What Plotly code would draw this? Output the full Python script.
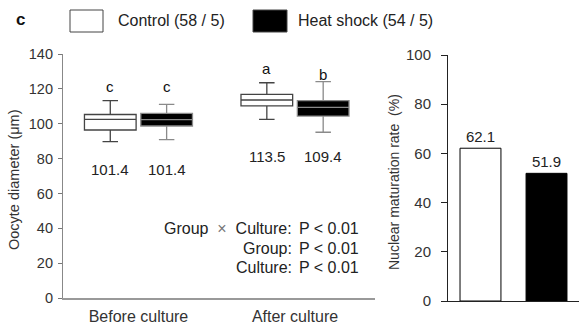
import plotly.graph_objects as go

W, H = 586, 326
FONT = "Liberation Sans, Arial, sans-serif"

# ---- data ----
groups = ["Control (58 / 5)", "Heat shock (54 / 5)"]
stages = ["Before culture", "After culture"]
# box stats per group: [before, after]
ctrl_low = [89.7, 102.5]
ctrl_q1 = [96.4, 110.2]
ctrl_med = [102.5, 113.6]
ctrl_q3 = [105.3, 116.8]
ctrl_high = [113.2, 123.5]
hs_low = [90.9, 95.1]
hs_q1 = [98.7, 104.4]
hs_med = [102.3, 109.4]
hs_q3 = [105.9, 113.2]
hs_high = [111.1, 124.2]
ctrl_mean_labels = ["101.4", "113.5"]
hs_mean_labels = ["101.4", "109.4"]
ctrl_letters = ["c", "a"]
hs_letters = ["c", "b"]
stats_labels = ["Group\u00a0 <span style='color:#777'>×</span> \u00a0Culture:", "Group:", "Culture:"]
stats_values = ["P < 0.01", "P < 0.01", "P < 0.01"]
maturation = [62.1, 51.9]

def px_x(p):
    return p / W

def px_y(p):
    return (H - p) / H

fig = go.Figure()

off = 0.18
bw = 0.33
fig.add_trace(go.Box(
    x=[i - off for i in range(2)], q1=ctrl_q1, median=ctrl_med, q3=ctrl_q3,
    lowerfence=ctrl_low, upperfence=ctrl_high, width=bw, whiskerwidth=0.3,
    fillcolor="white", line=dict(color="#444444", width=1.3), boxpoints=False,
    xaxis="x", yaxis="y", showlegend=False, hoverinfo="skip"))
fig.add_trace(go.Box(
    x=[i + off for i in range(2)], q1=hs_q1, median=hs_med, q3=hs_q3,
    lowerfence=hs_low, upperfence=hs_high, width=bw, whiskerwidth=0.3,
    fillcolor="black", line=dict(color="#8a8a8a", width=1.3), boxpoints=False,
    xaxis="x", yaxis="y", showlegend=False, hoverinfo="skip"))

fig.add_trace(go.Bar(
    x=[0, 1], y=maturation, width=0.62,
    marker=dict(color=["white", "black"], line=dict(color="black", width=1)),
    text=[f"{v:.1f}" for v in maturation], textposition="outside",
    textfont=dict(size=15, color="#222"), cliponaxis=False,
    xaxis="x2", yaxis="y2", showlegend=False, hoverinfo="skip"))

TXT = dict(size=15, color="#222")
TXT16 = dict(size=16, color="#222")
ann = []
for i in range(2):
    ann.append(dict(x=i - off, y=[121.5, 131.5][i], xref="x", yref="y", text=ctrl_letters[i],
                    xanchor="center", yanchor="middle", showarrow=False, font=dict(size=15, color="#111")))
    ann.append(dict(x=i + off, y=[121.5, 128.5][i], xref="x", yref="y", text=hs_letters[i],
                    xanchor="center", yanchor="middle", showarrow=False, font=dict(size=15, color="#111")))
    my = [73.5, 81][i]
    ann.append(dict(x=i - off, y=my, xref="x", yref="y", text=ctrl_mean_labels[i],
                    xanchor="center", yanchor="middle", showarrow=False, font=TXT))
    ann.append(dict(x=i + off, y=my, xref="x", yref="y", text=hs_mean_labels[i],
                    xanchor="center", yanchor="middle", showarrow=False, font=TXT))

for k, py in enumerate([229, 248, 267]):
    ann.append(dict(x=px_x(294), y=px_y(py), xref="paper", yref="paper", xanchor="right",
                    yanchor="middle", text=stats_labels[k], showarrow=False, font=TXT16))
    ann.append(dict(x=px_x(297), y=px_y(py), xref="paper", yref="paper", xanchor="left",
                    yanchor="middle", text=stats_values[k], showarrow=False, font=TXT16))

ann.append(dict(x=px_x(14), y=px_y(180), xref="paper", yref="paper", textangle=-90,
                xanchor="center", yanchor="middle",
                text="Oocyte diameter (μm)", showarrow=False, font=dict(size=14.5, color="#333")))
ann.append(dict(x=px_x(394), y=px_y(182), xref="paper", yref="paper", textangle=-90,
                xanchor="center", yanchor="middle",
                text="Nuclear maturation rate\u00a0 (%)", showarrow=False, font=dict(size=14, color="#333")))

ann.append(dict(x=px_x(14), y=px_y(20), xref="paper", yref="paper", xanchor="left", yanchor="middle",
                text="<b>c</b>", showarrow=False, font=dict(size=17, color="#111")))
ann.append(dict(x=px_x(116), y=px_y(21), xref="paper", yref="paper", xanchor="left", yanchor="middle",
                text=groups[0], showarrow=False, font=TXT16))
ann.append(dict(x=px_x(296), y=px_y(21), xref="paper", yref="paper", xanchor="left", yanchor="middle",
                text=groups[1], showarrow=False, font=TXT16))

shapes = [
    dict(type="rect", xref="paper", yref="paper", x0=px_x(70), x1=px_x(103), y0=px_y(32), y1=px_y(10),
         fillcolor="white", line=dict(color="#444", width=1)),
    dict(type="rect", xref="paper", yref="paper", x0=px_x(253), x1=px_x(287), y0=px_y(32), y1=px_y(10),
         fillcolor="black", line=dict(color="#444", width=1)),
]

fig.update_layout(
    width=W, height=H, margin=dict(l=0, r=0, t=0, b=0, pad=0), autosize=False,
    paper_bgcolor="white", plot_bgcolor="white",
    font=dict(family=FONT),
    annotations=ann, shapes=shapes, boxmode="overlay", showlegend=False,
    xaxis=dict(domain=[px_x(63), px_x(375)], range=[-0.482, 1.511], automargin=False,
               tickvals=[0, 1], ticktext=stages, ticks="", showgrid=False, zeroline=False,
               showline=True, linecolor="#999", linewidth=1.5,
               tickfont=dict(size=16, color="#333", family=FONT), ticklabelstandoff=3),
    yaxis=dict(domain=[px_y(298), px_y(54)], range=[0, 140], dtick=20, automargin=False,
               ticks="outside", ticklen=4, tickcolor="#777", showgrid=False, zeroline=False,
               showline=True, linecolor="#888", linewidth=1.2,
               tickfont=dict(size=14.5, color="#333", family=FONT), ticklabelstandoff=2),
    xaxis2=dict(domain=[px_x(448), px_x(579)], range=[-0.492, 1.492], anchor="y2", automargin=False,
                showticklabels=False, ticks="", showgrid=False, zeroline=False,
                showline=True, linecolor="#222", linewidth=1),
    yaxis2=dict(domain=[px_y(301), px_y(55)], range=[0, 100], dtick=20, anchor="x2", automargin=False,
                ticks="outside", ticklen=6, tickcolor="#222", showgrid=False, zeroline=False,
                showline=True, linecolor="#222", linewidth=1,
                tickfont=dict(size=15, color="#333", family=FONT), ticklabelstandoff=7),
)

fig.write_html("out.html", post_script="document.body.style.margin='0';document.body.style.overflow='hidden';")
